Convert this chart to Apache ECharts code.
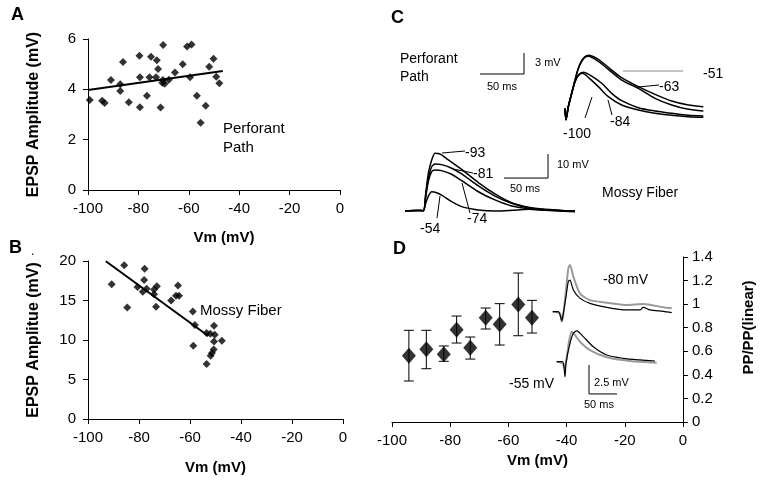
<!DOCTYPE html>
<html><head><meta charset="utf-8">
<script src="https://cdn.jsdelivr.net/npm/echarts@6/dist/echarts.min.js"></script>
<style>html,body{margin:0;padding:0;background:#fff}#c{width:763px;height:480px}</style>
</head><body><div id="c"></div>
<script>
// ---------- DATA ----------
const xTicksVm = [-100, -80, -60, -40, -20, 0];
// Panel A: Perforant Path EPSP amplitude vs Vm
const ppPoints = [[-99.3,3.58],[-94.4,3.55],[-93.4,3.46],[-90.9,4.37],[-87.2,4.2],[-87.2,3.93],[-86.1,5.09],[-83.8,3.49],[-79.6,5.33],[-79.4,4.48],[-79.4,3.29],[-76.6,3.75],[-75.0,5.29],[-75.6,4.48],[-73.0,4.48],[-72.7,5.16],[-72.2,4.81],[-71.2,3.28],[-70.2,5.76],[-70.3,4.37],[-70.5,4.26],[-69.6,4.22],[-67.9,4.38],[-65.5,4.67],[-62.4,5.0],[-60.7,5.7],[-58.9,5.78],[-59.5,4.48],[-56.8,3.75],[-55.3,2.67],[-53.3,3.35],[-51.9,4.9],[-50.2,5.22],[-49.1,4.5],[-47.9,4.24]];
const ppTrend = [[-100,3.97],[-46.5,4.73]];
// Panel B: Mossy Fiber
const mfPoints = [[-90.7,17.05],[-85.8,19.45],[-84.6,14.1],[-80.6,16.7],[-77.8,19.03],[-78.0,17.6],[-78.5,16.1],[-77.0,16.5],[-74.1,16.4],[-73.0,16.8],[-74.1,15.8],[-73.3,14.2],[-67.4,15.0],[-65.5,15.6],[-64.7,16.9],[-64.3,15.6],[-58.9,13.6],[-58.1,11.9],[-58.7,9.26],[-53.5,10.9],[-53.5,6.95],[-52.0,10.8],[-50.6,11.8],[-50.3,10.65],[-50.6,9.8],[-50.7,8.8],[-51.4,8.34],[-51.9,8.0],[-47.5,9.9]];
const mfTrend = [[-93,19.96],[-52.8,10.5]];
// Panel D: paired-pulse ratio vs Vm
const dVm   = [-94.2,-88.2,-82.2,-77.8,-73.1,-67.8,-63.0,-56.6,-51.9];
const dMean = [0.563,0.617,0.574,0.783,0.631,0.885,0.829,0.998,0.885];
const dHigh = [0.778,0.778,0.645,0.899,0.721,0.967,1.004,1.264,1.032];
const dLow  = [0.348,0.452,0.515,0.670,0.534,0.789,0.653,0.732,0.755];
// Panel C traces [ms, mV]
const ppTr51 = [[0,0.5],[1.1,-1.1],[3.8,0.76],[7.6,2.67],[11.4,4.57],[15.2,6.24],[18.9,7.33],[22.7,7.9],[26.5,8.1],[37.9,7.52],[49.2,6.38],[64.4,4.9],[83.3,3.62],[102.3,2.52],[121.2,1.57],[140.2,1.0],[157.2,0.76]];
const ppTr63 = [[0,0.5],[1.1,-1.1],[3.8,0.76],[7.6,2.67],[11.4,4.57],[15.2,6.24],[18.9,7.2],[22.7,7.8],[26.5,7.95],[37.9,7.24],[49.2,6.1],[64.4,4.57],[83.3,3.38],[102.3,1.95],[121.2,1.0],[140.2,0.38],[157.2,0.14]];
const ppTr84 = [[0,0.5],[1.1,-1.1],[3.8,0.76],[7.6,2.67],[11.4,4.33],[15.2,5.29],[20.8,5.67],[30.3,5.14],[41.7,4.1],[53.0,2.67],[64.4,1.62],[83.3,0.62],[102.3,0.14],[121.2,-0.19],[140.2,-0.48],[157.2,-0.57]];
const ppTr100 = [[0,0.5],[1.1,-1.1],[3.8,0.76],[7.6,2.67],[11.4,4.33],[15.2,5.2],[19.7,5.52],[26.5,4.95],[37.9,3.62],[49.2,2.19],[64.4,1.0],[83.3,0.29],[102.3,-0.19],[121.2,-0.48],[140.2,-0.67],[157.2,-0.76]];
const mfTr93 = [[-22.7,0],[-10,0.1],[-1.9,0],[0.8,7.25],[3.8,15.6],[7.6,21.1],[11.4,23.9],[17.0,23.6],[22.7,22.2],[41.7,17.2],[60.6,11.7],[79.5,7.0],[98.5,3.3],[117.4,1.4],[136.4,0.56],[170.5,-0.28]];
const mfTr81 = [[-22.7,0],[-10,0.1],[-1.9,0],[0.8,6.5],[3.8,13.5],[7.6,18.3],[11.4,19.5],[18.9,19.2],[30.3,17.7],[41.7,15.3],[60.6,10.3],[79.5,6.1],[98.5,3.1],[117.4,1.25],[136.4,0.42],[170.5,-0.14]];
const mfTr74 = [[-22.7,0],[-10,0.1],[-1.9,0],[0.8,5.8],[3.8,12.1],[7.6,16.25],[11.4,17.0],[18.9,16.7],[30.3,15.2],[41.7,12.5],[60.6,7.9],[79.5,4.5],[98.5,2.0],[117.4,0.9],[136.4,0.3],[170.5,-0.28]];
const mfTr54 = [[-22.7,0],[-10,0.1],[-1.9,0],[0.8,3.1],[3.8,6.1],[7.6,7.9],[13.3,7.5],[18.9,6.5],[30.3,3.75],[41.7,1.7],[60.6,0.3],[79.5,-0.14],[98.5,0.14],[117.4,0.56],[136.4,0.14],[170.5,-0.42]];
// Panel D inset traces [ms, mV]
const d80Black = [[-16.1,0],[-6.0,0],[-3.0,-0.28],[0,-0.78],[2.9,-0.14],[7.7,1.3],[11.8,2.6],[14.8,2.73],[20.8,1.87],[32.7,1.15],[50.5,0.72],[80.4,0.38],[116,0.15],[139.8,0.15],[145.7,0.38],[157.7,0.15],[181.4,0.03],[196.4,-0.08]];
const d80Gray  = [[-16.1,0],[-3.0,-0.14],[0,-0.86],[2.9,-0.28],[7.7,1.87],[11.8,3.74],[14.8,4.03],[20.8,3.02],[32.7,1.58],[50.5,1.0],[80.4,0.78],[116,0.58],[145.7,0.66],[181.4,0.38],[196.4,0.29]];
const d55Black = [[-14.9,0],[-4.2,0],[0,-1.29],[1.8,-0.14],[8.9,1.58],[14.9,2.45],[20.8,2.65],[32.7,2.16],[50.5,1.29],[74.4,0.58],[104.2,0.29],[133.9,0.15],[160.7,0.06]];
const d55Gray  = [[-14.9,0],[-4.2,-0.14],[-1.2,-0.57],[1.8,0],[7.7,1.87],[11.9,2.59],[17.9,2.3],[26.8,1.72],[44.6,1.0],[74.4,0.38],[116,0.06],[163.7,-0.09]];
// scale bars [ms, mV]
const ppScale = [[-96.6,5.43],[-46.6,5.43],[-46.6,8.43]];   // 50 ms, 3 mV
const mfScale = [[89.8,13.6],[139.8,13.6],[139.8,23.6]];    // 50 ms, 10 mV
const dScale  = [[42.9,-0.28],[42.9,-2.78],[92.9,-2.78]];   // 2.5 mV, 50 ms

// ---------- CHART ----------
const FONT = 'Liberation Sans, Arial, sans-serif';
const chart = echarts.init(document.getElementById('c'), null, {renderer:'canvas'});
const axLine = {show:true, onZero:false, lineStyle:{color:'#000', width:1}};
const axTick = {show:true, length:5, lineStyle:{color:'#000'}};
const lbl = (m)=>({color:'#000', fontSize:15, fontFamily:FONT, margin:m});
const nameStyle = {color:'#000', fontSize:16, fontWeight:'bold', fontFamily:FONT};
function hiddenAxis(min,max){return {type:'value', min, max, show:false, splitLine:{show:false}};}

const grids = [
  {left:88, top:39, width:252, height:151},     // A
  {left:88, top:261, width:255, height:158},    // B
  {left:392, top:257, width:291, height:165},   // D
  {left:468.2, top:42, width:237.6, height:84}, // C PP traces
  {left:403, top:138.7, width:176, height:84},  // C MF traces
  {left:550.5, top:253.7, width:128.8, height:81.2}, // D -80
  {left:553.8, top:315.3, width:128.8, height:81.2}  // D -55
];
function vmAxis(gi, nameGap, pad){
  return {type:'value', gridIndex:gi, min:-100, max:0, interval:20, name:'Vm (mV)', nameLocation:'middle', nameGap:nameGap,
    nameTextStyle:Object.assign({}, nameStyle, {fontSize:15, padding:pad||0}), axisLine:axLine, axisTick:axTick, axisLabel:lbl(11), splitLine:{show:false}};
}
const xAxes = [
  vmAxis(0, 40, [0,0,0,20]),
  vmAxis(1, 41),
  vmAxis(2, 31),
  Object.assign(hiddenAxis(-110,160),{gridIndex:3}),
  Object.assign(hiddenAxis(-25,175),{gridIndex:4}),
  Object.assign(hiddenAxis(-20,210),{gridIndex:5}),
  Object.assign(hiddenAxis(-20,210),{gridIndex:6})
];
const yAxes = [
  {type:'value', gridIndex:0, min:0, max:6, interval:2, name:'EPSP Amplitude (mV)', nameLocation:'middle', nameGap:46,
   nameTextStyle:nameStyle, axisLine:axLine, axisTick:axTick, axisLabel:lbl(12), splitLine:{show:false}},
  {type:'value', gridIndex:1, min:0, max:20, interval:5, name:'EPSP Amplitue (mV)', nameLocation:'middle', nameGap:46,
   nameTextStyle:nameStyle, axisLine:axLine, axisTick:axTick, axisLabel:lbl(12), splitLine:{show:false}},
  {type:'value', gridIndex:2, position:'right', min:0, max:1.4, interval:0.2, name:'PP/PP(linear)', nameLocation:'middle', nameGap:58,
   nameTextStyle:Object.assign({}, nameStyle, {fontSize:15, padding:[0,0,0,24]}), axisLine:axLine, axisTick:axTick,
   axisLabel:Object.assign(lbl(9),{formatter:(v)=>String(+v.toFixed(1))}), splitLine:{show:false}},
  Object.assign(hiddenAxis(-2,10),{gridIndex:3}),
  Object.assign(hiddenAxis(-5,30),{gridIndex:4}),
  Object.assign(hiddenAxis(-2,5),{gridIndex:5}),
  Object.assign(hiddenAxis(-3,4),{gridIndex:6})
];

function traceSeries(data, gi, color, w){
  return {type:'line', xAxisIndex:gi, yAxisIndex:gi, data, showSymbol:false, smooth:0.25, silent:true,
    lineStyle:{color:color||'#000', width:w||1.5}};
}
function barSeries(data, gi){
  return {type:'line', xAxisIndex:gi, yAxisIndex:gi, data, showSymbol:false, silent:true, lineStyle:{color:'#000', width:1}};
}
const errData = dVm.map((x,i)=>[x, dLow[i], dHigh[i]]);
const series = [
  {type:'scatter', xAxisIndex:0, yAxisIndex:0, data:ppPoints, symbol:'diamond', symbolSize:8, itemStyle:{color:'#000'}},
  {type:'line', xAxisIndex:0, yAxisIndex:0, data:ppTrend, showSymbol:false, lineStyle:{color:'#000', width:2}},
  {type:'scatter', xAxisIndex:1, yAxisIndex:1, data:mfPoints, symbol:'diamond', symbolSize:8, itemStyle:{color:'#000'}},
  {type:'line', xAxisIndex:1, yAxisIndex:1, data:mfTrend, showSymbol:false, lineStyle:{color:'#000', width:2}},
  {type:'custom', xAxisIndex:2, yAxisIndex:2, data:errData, encode:{x:0, y:[1,2]},
   renderItem:function(params, api){
     const x = api.value(0), lo = api.value(1), hi = api.value(2);
     const a = api.coord([x,hi]), b = api.coord([x,lo]); const w = 5;
     const st = {stroke:'#000', lineWidth:1};
     return {type:'group', children:[
       {type:'line', shape:{x1:a[0],y1:a[1],x2:b[0],y2:b[1]}, style:st},
       {type:'line', shape:{x1:a[0]-w,y1:a[1],x2:a[0]+w,y2:a[1]}, style:st},
       {type:'line', shape:{x1:b[0]-w,y1:b[1],x2:b[0]+w,y2:b[1]}, style:st}
     ]};
   }, z:2},
  {type:'scatter', xAxisIndex:2, yAxisIndex:2, data:dVm.map((x,i)=>[x,dMean[i]]), symbol:'diamond', symbolSize:[14,16], itemStyle:{color:'#000'}, z:3},
  traceSeries(ppTr51,3), traceSeries(ppTr63,3), traceSeries(ppTr84,3), traceSeries(ppTr100,3), barSeries(ppScale,3),
  traceSeries(mfTr93,4), traceSeries(mfTr81,4), traceSeries(mfTr74,4), traceSeries(mfTr54,4), barSeries(mfScale,4),
  traceSeries(d80Gray,5,'#9a9a9a',2), traceSeries(d80Black,5,'#000',1.2),
  traceSeries(d55Gray,6,'#9a9a9a',2), traceSeries(d55Black,6,'#000',1.2), barSeries(dScale,6)
];

function txt(x,y,text,size,opts){
  opts = opts||{};
  return {type:'text', x, y, silent:true, style:{text, fill:'#000', font:(opts.bold?'bold ':'')+size+'px '+FONT,
    textAlign:opts.align||'left', textVerticalAlign:'middle', align:opts.align||'left', verticalAlign:'middle'}};
}
function ln(x1,y1,x2,y2,color){
  return {type:'line', silent:true, shape:{x1,y1,x2,y2}, style:{stroke:color||'#000', lineWidth:1}};
}
const graphic = [
  txt(11,15,'A',18,{bold:true}), txt(9,248,'B',18,{bold:true}), txt(391,18,'C',18,{bold:true}), txt(393,249,'D',18,{bold:true}),
  txt(31,252,'.',12),
  txt(223,129,'Perforant',15), txt(223,148,'Path',15),
  txt(200,311,'Mossy Fiber',15),
  txt(400,59,'Perforant',14), txt(400,77,'Path',14),
  txt(535,63,'3 mV',11), txt(487,87,'50 ms',11),
  txt(557,165,'10 mV',11), txt(510,189,'50 ms',11),
  txt(602,193,'Mossy Fiber',14),
  txt(703,74,'-51',14), txt(659,87,'-63',14), txt(610,122,'-84',14), txt(563,134,'-100',14),
  txt(465,153,'-93',14), txt(473,174,'-81',14), txt(467,219,'-74',14), txt(420,229,'-54',14),
  ln(623,71,683,71,'#888'), ln(638,87,659,85), ln(608,100,612,115), ln(592,97,585,118),
  ln(442,153,465,151), ln(453,169,473,173), ln(462,183,470,213), ln(440,196,437,218),
  txt(603,280,'-80 mV',14), txt(509,384,'-55 mV',14), txt(594,383,'2.5 mV',11), txt(584,405,'50 ms',11)
];

chart.setOption({
  animation:false, backgroundColor:'#fff',
  textStyle:{fontFamily:FONT},
  grid:grids, xAxis:xAxes, yAxis:yAxes, series, graphic
});
</script></body></html>
